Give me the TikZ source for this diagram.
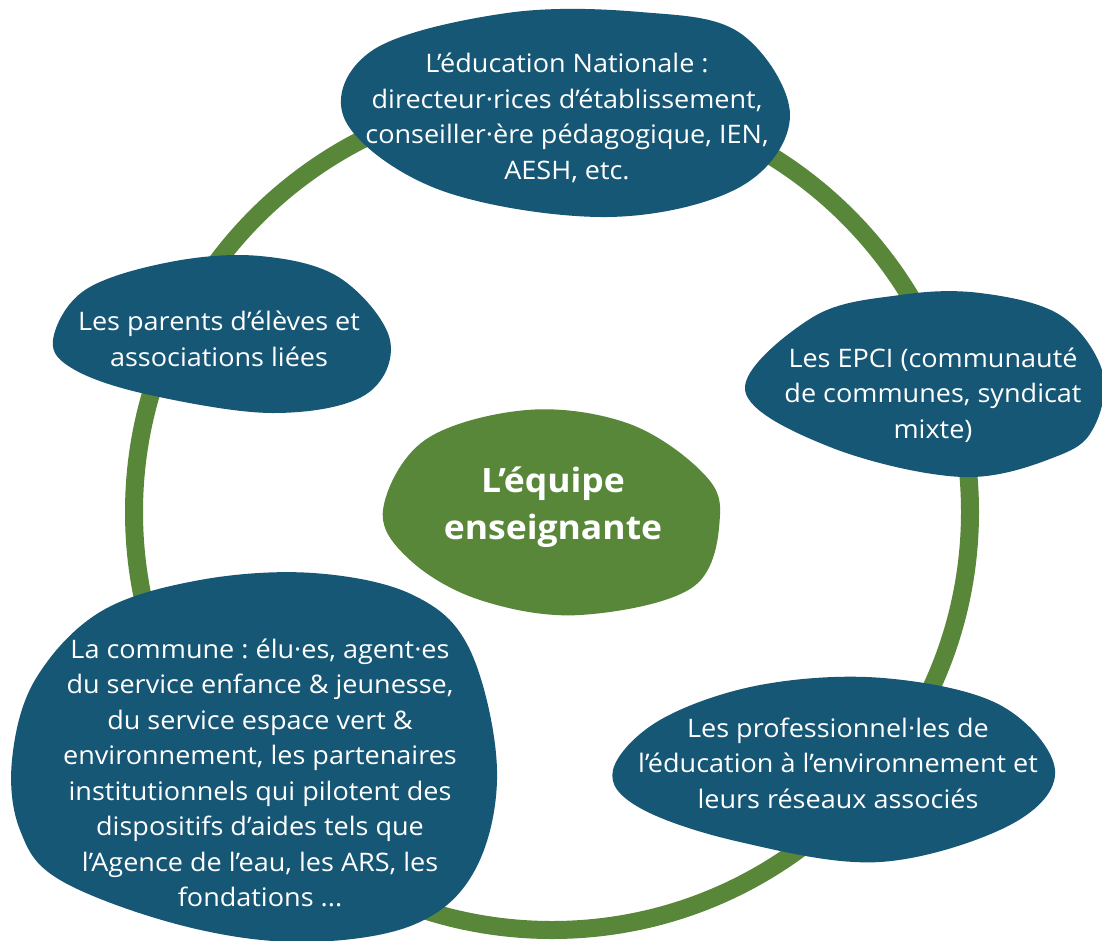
\documentclass[tikz,border=0pt]{standalone}
\usepackage{fontspec}
\setmainfont{Open Sans}[FakeStretch=1.06]
\definecolor{blobblue}{RGB}{22,87,118}
\definecolor{leafgreen}{RGB}{89,135,58}
\frenchspacing
\begin{document}
\begin{tikzpicture}[x=1pt,y=-1pt,
  blob/.style={fill=blobblue, draw=none},
  hub/.style={fill=leafgreen, draw=none},
  label/.style={text=white, align=center, inner sep=0pt,
    font=\fontsize{25.5}{35.5}\selectfont},
  hublabel/.style={text=white, align=center, inner sep=0pt,
    font=\bfseries\fontsize{33.5}{47}\selectfont},
  ring/.style={draw=leafgreen, line width=18pt}]
\useasboundingbox (0,0) rectangle (1102,940);
\fill[white] (0,0) rectangle (1102,940);

% outer ring linking the partners
\draw[ring] (552,512) circle [radius=418];

% central team
\fill[hub] plot[smooth cycle, tension=0.6] coordinates {
  (383,510) (425,440) (527,410) (627,423) (700,470) (720,515)
  (693,587) (580,615) (480,600) (410,560)};
\node[hublabel] (team) at (553,507) {L’équipe\\enseignante};

% Éducation Nationale
\fill[blob] plot[smooth cycle, tension=0.6] coordinates {
  (345,120) (373,50) (507,13) (640,12) (740,33) (790,115)
  (740,187) (607,217) (440,190)};
\node[label] (edu) at (567,118) {L’éducation Nationale :\\directeur·rices d’établissement,\\conseiller·ère pédagogique, IEN,\\AESH, etc.};

% parents
\fill[blob] plot[smooth cycle, tension=0.6] coordinates {
  (53,340) (85,290) (170,262) (260,256) (340,278) (390,340)
  (365,395) (273,413) (150,395) (75,370)};
\node[label] (parents) at (219,339) {Les parents d’élèves et\\associations liées};

% EPCI
\fill[blob] plot[smooth cycle, tension=0.6] coordinates {
  (745,390) (813,317) (900,295) (980,293) (1060,315) (1102,370)
  (1095,425) (1060,455) (963,477) (830,447)};
\node[label] (epci) at (933,395) {Les EPCI (communauté\\de communes, syndicat\\mixte)};

% professionals of environmental education
\fill[blob] plot[smooth cycle, tension=0.6] coordinates {
  (613,770) (660,720) (760,685) (883,678) (1000,705) (1055,770)
  (1010,825) (880,862) (740,842) (640,808)};
\node[label] (pros) at (838,763) {Les professionnel·les de\\l’éducation à l’environnement et\\leurs réseaux associés};

% commune
\fill[blob] plot[smooth cycle, tension=0.6] coordinates {
  (12,760) (35,680) (100,612) (200,580) (313,573) (413,595) (470,650)
  (497,770) (475,870) (413,925) (300,942) (180,925) (60,880) (20,830)};
\node[label] (commune) at (260,773) {La commune : élu·es, agent·es\\du service enfance \& jeunesse,\\du service espace vert \&\\environnement, les partenaires\\institutionnels qui pilotent des\\dispositifs d’aides tels que\\l’Agence de l’eau, les ARS, les\\fondations ...};
\end{tikzpicture}
\end{document}
